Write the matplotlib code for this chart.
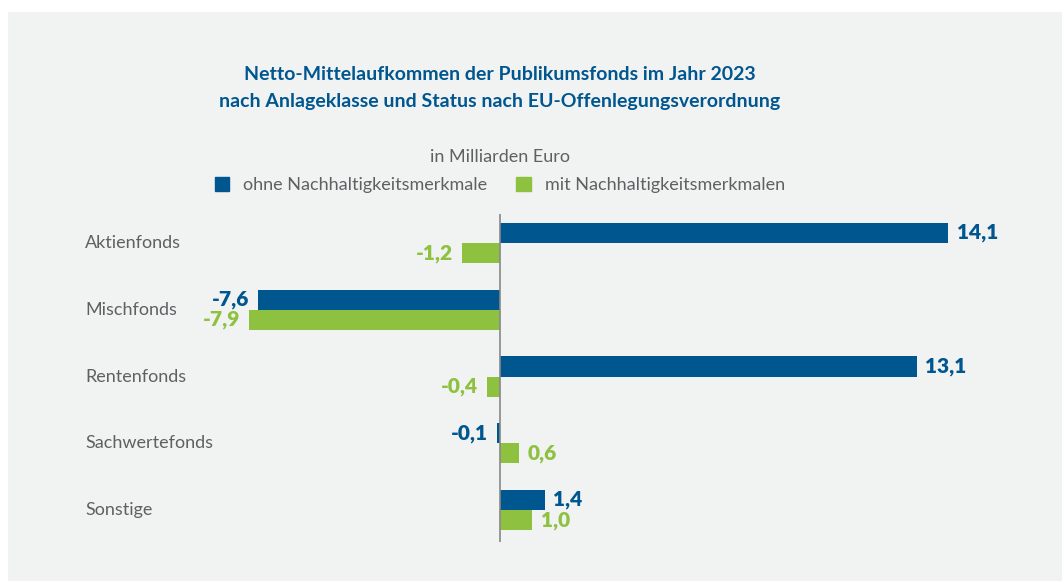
import matplotlib.pyplot as plt
from matplotlib.patches import Rectangle
from matplotlib.transforms import blended_transform_factory

plt.rcParams['font.family'] = ['Lato', 'DejaVu Sans']

categories = ["Aktienfonds", "Mischfonds", "Rentenfonds", "Sachwertefonds", "Sonstige"]
ohne = [14.1, -7.6, 13.1, -0.1, 1.4]
mit = [-1.2, -7.9, -0.4, 0.6, 1.0]
series_names = ["ohne Nachhaltigkeitsmerkmale", "mit Nachhaltigkeitsmerkmalen"]

BLUE = "#00568f"
GREEN = "#8dc13f"
GREY_TEXT = "#5f6062"
BG = "#f1f2f2"

W, H = 1062, 581
fig = plt.figure(figsize=(W / 100, H / 100), dpi=100)
fig.patch.set_facecolor("white")

# grey panel behind everything
fig.patches.append(Rectangle((8 / W, 0), 1 - 8 / W, 1 - 12 / H,
                             transform=fig.transFigure, facecolor=BG,
                             edgecolor="none", zorder=-10))

# axes placed so that zero sits at x=500 px
ax_left, ax_right = 100, 1000
ax_top, ax_bottom = 214, 542
ax = fig.add_axes([ax_left / W, 1 - ax_bottom / H,
                   (ax_right - ax_left) / W, (ax_bottom - ax_top) / H])
ax.set_facecolor("none")

px_per_unit = 31.8
ax.set_xlim(-(500 - ax_left) / px_per_unit, (ax_right - 500) / px_per_unit)
row_px = 66.75
ax.set_ylim(4 + (ax_bottom - 510) / row_px, -(243 - ax_top) / row_px)

bh = 0.30
ypos = list(range(len(categories)))
ax.barh([y - bh / 2 for y in ypos], ohne, height=bh, color=BLUE, zorder=2)
ax.barh([y + bh / 2 for y in ypos], mit, height=bh, color=GREEN, zorder=2)

ax.axvline(0, color="#888888", lw=1.2, zorder=3)

pad = 0.28
for vals, off, col in [(ohne, -bh / 2, BLUE), (mit, bh / 2, GREEN)]:
    for y, v in zip(ypos, vals):
        txt = f"{v:.1f}".replace(".", ",")
        if v >= 0:
            ax.text(v + pad, y + off, txt, ha="left", va="center",
                    color=col, fontsize=15, fontweight="heavy")
        else:
            ax.text(v - pad, y + off, txt, ha="right", va="center",
                    color=col, fontsize=15, fontweight="heavy")

# category names: x in figure coords, y in data coords
trans = blended_transform_factory(fig.transFigure, ax.transData)
for y, c in zip(ypos, categories):
    ax.text(85 / W, y, c, transform=trans, ha="left", va="center",
            fontsize=13, color=GREY_TEXT)

ax.axis("off")

fig.text(500 / W, 1 - 75 / H, "Netto-Mittelaufkommen der Publikumsfonds im Jahr 2023",
         ha="center", va="center", fontsize=14, fontweight="bold", color=BLUE)
fig.text(500 / W, 1 - 101 / H, "nach Anlageklasse und Status nach EU-Offenlegungsverordnung",
         ha="center", va="center", fontsize=14, fontweight="bold", color=BLUE)
fig.text(500 / W, 1 - 157 / H, "in Milliarden Euro",
         ha="center", va="center", fontsize=13, color=GREY_TEXT)

fig.legend(handles=[Rectangle((0, 0), 1, 1, color=BLUE),
                    Rectangle((0, 0), 1, 1, color=GREEN)],
           labels=series_names, loc="center", bbox_to_anchor=(500 / W, 1 - 185 / H),
           ncol=2, frameon=False, fontsize=13, handlelength=0.8, handleheight=0.8,
           handletextpad=0.8, columnspacing=1.6, labelcolor=GREY_TEXT)

fig.savefig("out.png", dpi=100, facecolor="white")
